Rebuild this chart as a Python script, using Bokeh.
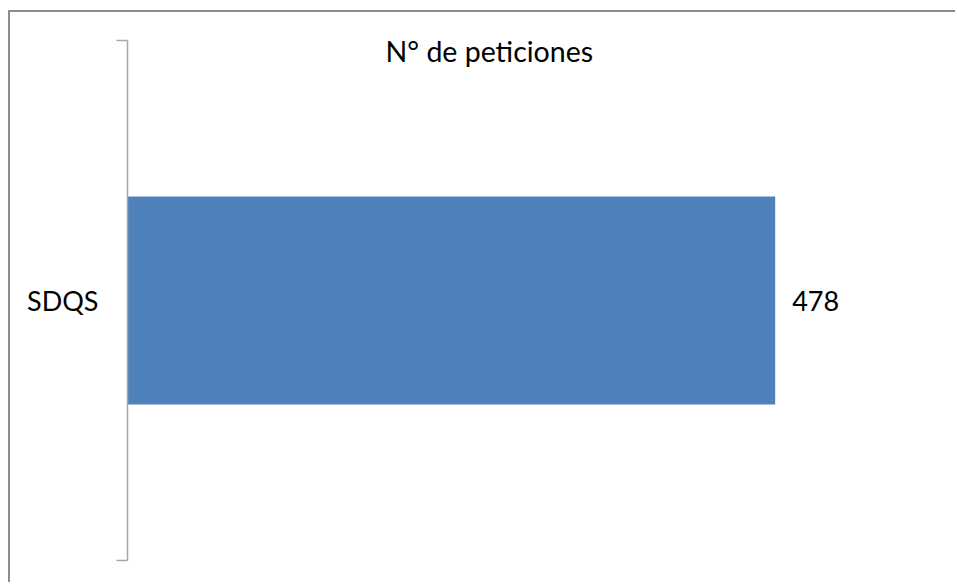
from bokeh.plotting import figure
from bokeh.models import (FactorRange, Range1d, LinearAxis, CategoricalAxis,
                          FixedTicker, Label, ColumnDataSource, InlineStyleSheet)
from bokeh.core.properties import value
from bokeh.embed import file_html
from bokeh.resources import INLINE

# data
categories = ["SDQS"]
peticiones = [478]
title_text = "N° de peticiones"

FONT = "Lato"
BAR_COLOR = "#4F81BD"
AXIS_GRAY = "#a6a6a6"

source = ColumnDataSource(dict(cat=categories, val=peticiones,
                               lbl=[str(v) for v in peticiones]))

p = figure(width=947, height=572, output_backend="svg", toolbar_location=None,
           y_range=FactorRange(*categories), x_range=Range1d(0, 600),
           x_axis_location=None, y_axis_location=None,
           min_border_left=117, min_border_right=17,
           min_border_top=28, min_border_bottom=24)
p.outline_line_color = None
p.xgrid.visible = False
p.ygrid.visible = False
p.background_fill_color = "white"
p.border_fill_color = "white"
# chart area border: a 2px shadow to the top and left of the canvas
p.styles = {"margin-left": "10px", "margin-top": "12px",
            "box-shadow": "-2px -2px 0 0 #8c8c8c", "overflow": "hidden"}
p.stylesheets = [InlineStyleSheet(css=":host, .bk-Canvas, .bk-events, svg "
                                      "{ overflow: hidden !important; "
                                      "border: none !important; "
                                      "outline: none !important; }")]

# vertical axis line with ticks at the outer edges of the category band
edge_axis = LinearAxis(ticker=FixedTicker(ticks=[0, len(categories)]),
                       major_label_overrides={0: "", len(categories): ""},
                       major_label_standoff=0,
                       major_tick_out=11, major_tick_in=0,
                       minor_tick_line_color=None,
                       major_tick_line_color=AXIS_GRAY,
                       axis_line_color=AXIS_GRAY, axis_line_width=1.5,
                       major_tick_line_width=1.5)
p.add_layout(edge_axis, "left")

# category labels
cat_axis = CategoricalAxis(axis_line_color=None, major_tick_line_color=None,
                           minor_tick_line_color=None,
                           major_label_text_font=FONT,
                           major_label_text_font_size="27px",
                           major_label_text_color="#000000",
                           major_label_standoff=12)
p.add_layout(cat_axis, "left")

p.hbar(y="cat", right="val", left=0, height=0.4, source=source,
       fill_color=BAR_COLOR, line_color=None)

p.text(x="val", y="cat", text="lbl", source=source, x_offset=17,
       text_font=value(FONT), text_font_size="27px", text_color="#000000",
       text_baseline="middle", text_align="left")

p.add_layout(Label(x=267, y=1, y_offset=-10, text=title_text,
                   text_font=FONT, text_font_size="28.5px", text_color="#000000",
                   text_align="center", text_baseline="alphabetic"))

open("out.html", "w").write(file_html(p, INLINE))
